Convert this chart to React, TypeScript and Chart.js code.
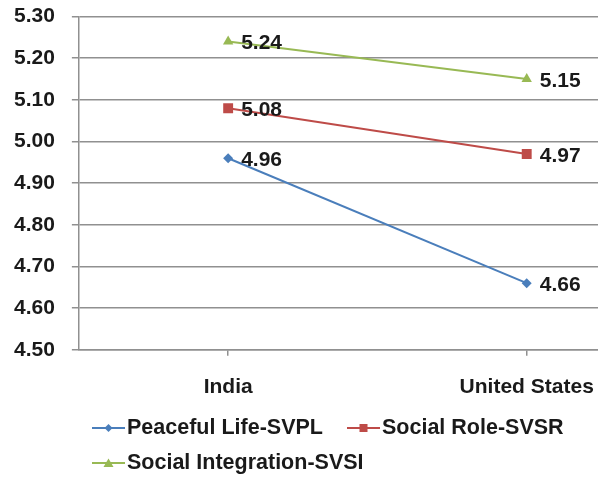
import React, { useEffect, useRef } from "react";
import { Chart, registerables } from "chart.js";

Chart.register(...registerables);

const categories = ["India", "United States"];
const peacefulLife = [4.96, 4.66];
const socialRole = [5.08, 4.97];
const socialIntegration = [5.24, 5.15];
const seriesNames = ["Peaceful Life-SVPL", "Social Role-SVSR", "Social Integration-SVSI"];
const seriesColors = ["#4a7ebb", "#be4b48", "#98b954"];
const yMin = 4.5;
const yMax = 5.3;
const yStep = 0.1;

const FONT = "'Liberation Sans', Arial, sans-serif";
const TEXT = "#1a1a1a";
const GRID = "#909090";

const dataLabels = {
  id: "dataLabels",
  afterDatasetsDraw(chart: any) {
    const ctx = chart.ctx;
    ctx.save();
    ctx.font = `bold 21px ${FONT}`;
    ctx.fillStyle = TEXT;
    ctx.textAlign = "left";
    ctx.textBaseline = "middle";
    chart.data.datasets.forEach((ds: any, i: number) => {
      const meta = chart.getDatasetMeta(i);
      meta.data.forEach((pt: any, j: number) => {
        ctx.fillText(Number(ds.data[j]).toFixed(2), pt.x + 13, pt.y + 2);
      });
    });
    ctx.restore();
  },
};

function Marker({ idx }: { idx: number }) {
  const c = seriesColors[idx];
  return (
    <svg width={33} height={12} style={{ display: "block" }}>
      <line x1={0} y1={6} x2={33} y2={6} stroke={c} strokeWidth={2} />
      {idx === 0 && <polygon points="16.5,2 20.5,6 16.5,10 12.5,6" fill={c} />}
      {idx === 1 && <rect x={12.5} y={2} width={8} height={8} fill={c} />}
      {idx === 2 && <polygon points="16.5,1.5 21.5,10 11.5,10" fill={c} />}
    </svg>
  );
}

export default function App() {
  const ref = useRef<HTMLCanvasElement>(null);
  useEffect(() => {
    if (!ref.current) return;
    const styles = ["rectRot", "rect", "triangle"];
    const radii = [5, 7, 6];
    const values = [peacefulLife, socialRole, socialIntegration];
    const chart = new Chart(ref.current, {
      type: "line",
      data: {
        labels: categories,
        datasets: values.map((v, i) => ({
          label: seriesNames[i],
          data: v,
          borderColor: seriesColors[i],
          backgroundColor: seriesColors[i],
          borderWidth: 2,
          pointStyle: styles[i] as any,
          pointRadius: radii[i],
          pointBorderWidth: 0,
          tension: 0,
        })),
      },
      options: {
        responsive: false,
        animation: false,
        devicePixelRatio: 1,
        layout: { padding: { left: 0, top: 4, right: 1, bottom: 0 } },
        plugins: { legend: { display: false }, tooltip: { enabled: false } },
        scales: {
          x: {
            offset: true,
            grid: {
              display: true,
              drawOnChartArea: false,
              drawTicks: true,
              tickLength: 6,
              color: GRID,
              lineWidth: 1.5,
            },
            border: { color: GRID, width: 1.5 },
            ticks: {
              color: TEXT,
              font: { family: FONT, size: 21, weight: "bold" },
              padding: 19,
              maxRotation: 0,
            },
          },
          y: {
            min: yMin,
            max: yMax,
            grid: { color: GRID, lineWidth: 1.5, drawTicks: true, tickLength: 7 },
            border: { color: GRID, width: 1.5 },
            ticks: {
              stepSize: yStep,
              color: TEXT,
              font: { family: FONT, size: 21, weight: "bold" },
              padding: 17,
              callback: (v: any) => Number(v).toFixed(2),
            },
          },
        },
      },
      plugins: [dataLabels],
    });
    return () => chart.destroy();
  }, []);

  const textStyle: React.CSSProperties = {
    fontFamily: FONT,
    fontWeight: "bold",
    fontSize: 21.5,
    color: TEXT,
    lineHeight: "25px",
    marginLeft: 2,
    whiteSpace: "nowrap",
  };
  const item = (idx: number, left: number, top: number) => (
    <div
      key={idx}
      style={{ position: "absolute", left, top, display: "flex", alignItems: "center", height: 25 }}
    >
      <Marker idx={idx} />
      <span style={textStyle}>{seriesNames[idx]}</span>
    </div>
  );

  return (
    <div
      style={{
        position: "fixed",
        left: 0,
        top: 0,
        width: 598,
        height: 487,
        overflow: "hidden",
        background: "#fff",
      }}
    >
      <canvas
        ref={ref}
        width={686}
        height={432}
        style={{ display: "block", marginTop: -13, marginLeft: -3 }}
      />
      {item(0, 92, 415)}
      {item(1, 347, 415)}
      {item(2, 92, 450)}
    </div>
  );
}
